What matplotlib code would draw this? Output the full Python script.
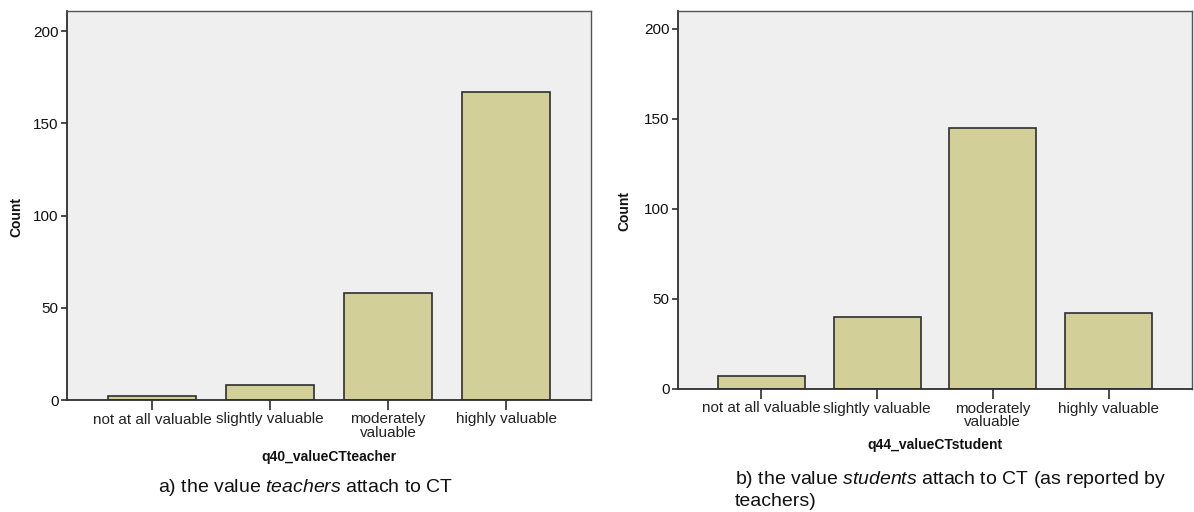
import matplotlib
matplotlib.use("Agg")
import matplotlib.pyplot as plt
import numpy as np

plt.rcParams['font.family'] = ['Liberation Sans', 'DejaVu Sans']
plt.rcParams['mathtext.fontset'] = 'custom'
plt.rcParams['mathtext.rm'] = 'Liberation Sans'
plt.rcParams['mathtext.it'] = 'Liberation Sans:italic'

# Response categories and counts
categories = ["not at all valuable", "slightly valuable", "moderately\nvaluable", "highly valuable"]
teacher_counts = [2, 8, 58, 167]
student_counts = [7, 40, 145, 42]
y_ticks = [0, 50, 100, 150, 200]

BAR_COLOR = "#d3cf98"
EDGE_COLOR = "#2e2e2e"
BG_COLOR = "#efefef"

fig = plt.figure(figsize=(11.94, 5.12), dpi=100)
fig.patch.set_facecolor("white")

W, H = 1194.0, 512.0
def px_axes(left, top, right, bottom):
    return [left / W, 1 - bottom / H, (right - left) / W, (bottom - top) / H]

ax1 = fig.add_axes(px_axes(67, 11, 591, 400))
ax2 = fig.add_axes(px_axes(678, 11, 1192, 389))

def draw_panel(ax, counts, xlabel, ylab_x, xlab_y, ytop):
    x = np.arange(len(categories))
    ax.set_facecolor(BG_COLOR)
    ax.bar(x, counts, width=0.75, color=BAR_COLOR, edgecolor=EDGE_COLOR, linewidth=1.2, zorder=2)
    ax.set_xlim(-0.72, 3.72)
    ax.set_ylim(0, ytop)
    ax.set_yticks(y_ticks)
    ax.set_xticks(x)
    ax.set_xticklabels(categories, linespacing=0.95)
    ax.tick_params(axis='y', direction='out', length=4, width=1.2, color=EDGE_COLOR,
                   labelsize=11, pad=2, labelcolor="#111111")
    ax.tick_params(axis='x', direction='out', length=7, width=1.2, color=EDGE_COLOR,
                   labelsize=11, pad=2, labelcolor="#222222")
    for side in ['left', 'bottom']:
        ax.spines[side].set_color(EDGE_COLOR)
        ax.spines[side].set_linewidth(1.3)
    for side in ['top', 'right']:
        ax.spines[side].set_color("#555555")
        ax.spines[side].set_linewidth(1.0)
    ax.set_ylabel("Count", fontsize=10, fontweight='bold', color="#111111", va='center')
    ax.yaxis.set_label_coords(ylab_x, 0.47)
    ax.set_xlabel(xlabel, fontsize=10, fontweight='bold', color="#111111", va='center')
    ax.xaxis.set_label_coords(0.5, xlab_y)

draw_panel(ax1, teacher_counts, "q40_valueCTteacher", -0.097, -0.147, 211)
draw_panel(ax2, student_counts, "q44_valueCTstudent", -0.105, -0.148, 210)

fig.text(158 / W, 1 - 487 / H, r"a) the value $\mathit{teachers}$ attach to CT",
         fontsize=14, ha='left', va='center', color="#111111")
fig.text(735 / W, 1 - 480 / H, r"b) the value $\mathit{students}$ attach to CT (as reported by",
         fontsize=14, ha='left', va='center', color="#111111")
fig.text(735 / W, 1 - 502 / H, "teachers)",
         fontsize=14, ha='left', va='center', color="#111111")

fig.savefig("out.png", dpi=100, facecolor="white")
